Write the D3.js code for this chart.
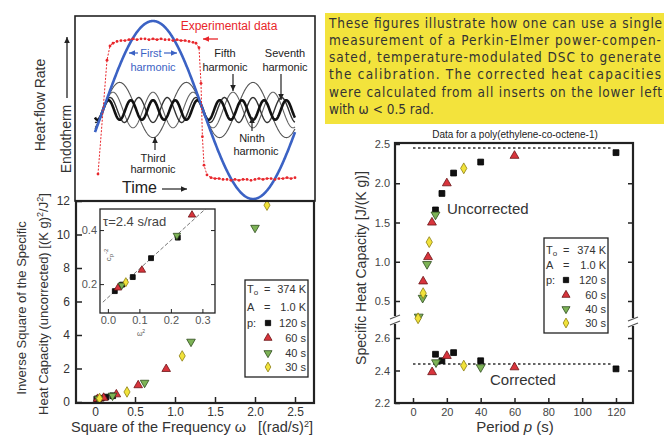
<!DOCTYPE html>
<html>
<head>
<meta charset="utf-8">
<script src="https://cdn.jsdelivr.net/npm/d3@7"></script>
<style>
  body { margin: 0; background: #fff; }
  svg { display: block; font-family: "Liberation Sans", Arial, Helvetica, sans-serif; }
</style>
</head>
<body>
<svg id="chart" width="664" height="435"></svg>
<script>
// ---------- Fourier decomposition of the heat-flow response ----------
const harmonicOrders = [1, 3, 5, 7, 9];
const harmonicAmps   = [1.0, 0.31, 0.20, 0.14, 0.11];
// measured heat-flow rate, [fraction of period, normalized amplitude]
const experimental = [
  [-0.025, -0.72], [0.020, 0.56], [0.035, 0.72], [0.050, 0.75], [0.070, 0.77],
  [0.090, 0.78], [0.110, 0.78], [0.130, 0.79], [0.150, 0.80], [0.170, 0.79],
  [0.190, 0.80], [0.210, 0.80], [0.230, 0.79], [0.250, 0.80], [0.270, 0.79],
  [0.290, 0.80], [0.310, 0.79], [0.330, 0.79], [0.350, 0.78], [0.370, 0.79],
  [0.390, 0.78], [0.410, 0.78], [0.430, 0.77], [0.450, 0.76], [0.465, 0.75],
  [0.480, 0.70], [0.490, 0.30], [0.497, -0.30], [0.505, -0.62], [0.520, -0.73],
  [0.540, -0.76], [0.560, -0.77], [0.580, -0.77], [0.600, -0.78], [0.620, -0.78],
  [0.640, -0.79], [0.660, -0.78], [0.680, -0.79], [0.700, -0.78], [0.720, -0.78],
  [0.740, -0.79], [0.760, -0.78], [0.780, -0.77], [0.800, -0.78], [0.820, -0.77],
  [0.840, -0.77], [0.860, -0.78], [0.880, -0.77], [0.900, -0.77], [0.920, -0.76],
  [0.940, -0.77], [0.960, -0.76]
];

// ---------- calibration: [ω², 1/cp²] for each modulation period ----------
const periodNames = ["120 s", "60 s", "40 s", "30 s"];
const invSq120 = [[0.022, 0.174], [0.045, 0.198], [0.079, 0.226], [0.137, 0.296], [0.222, 0.372]];
const invSq60  = [[0.032, 0.186], [0.108, 0.252], [0.267, 0.456], [0.54, 1.0], [0.89, 1.97]];
const invSq40  = [[0.044, 0.196], [0.219, 0.380], [0.62, 1.15], [1.20, 3.6], [2.00, 10.4]];
const invSq30  = [[0.057, 0.207], [0.40, 0.60], [1.09, 2.75], [2.15, 11.75]];
const fitLine  = [[-0.016, 0.133], [0.314, 0.483]];
const tauLabel = "τ=2.4 s/rad";

// ---------- specific heat capacity vs period, [p (s), cp J/(K g)] ----------
const uncorr120 = [[120, 2.39], [40, 2.27], [24, 2.13], [17.1, 1.87], [13.3, 1.66]];
const uncorr60  = [[60, 2.35], [20, 2.0], [11.2, 1.5], [8.9, 1.06], [6.0, 0.75]];
const uncorr40  = [[13.3, 1.60], [8.3, 0.97], [5.7, 0.54], [3.4, 0.30]];
const uncorr30  = [[30, 2.19], [9.6, 1.25], [6.0, 0.60], [3.0, 0.28]];
const corr120 = [[120, 2.41], [40, 2.46], [24, 2.51], [17.1, 2.46], [13.3, 2.50]];
const corr60  = [[60, 2.42], [20, 2.49], [11.3, 2.39]];
const corr40  = [[40, 2.42], [13.6, 2.45]];
const corr30  = [[30, 2.43]];
const refUncorrected = 2.45;
const refCorrected = 2.44;

const leftYTicks = [0, 2, 4, 6, 8, 10, 12];
const leftXTicks = [0, 0.5, 1.0, 1.5, 2.0, 2.5];
const insetXTicks = [0.0, 0.1, 0.2, 0.3];
const insetYTicks = [0.2, 0.4];
const upperTicks = [0.5, 1.0, 1.5, 2.0, 2.5];
const lowerTicks = [2.2, 2.4, 2.6];
const periodTicks = [0, 20, 40, 60, 80, 100, 120];

const noteLines = [
  "These figures illustrate how one can use a single",
  "measurement of a Perkin-Elmer power-compen-",
  "sated, temperature-modulated DSC to generate",
  "the calibration. The corrected heat capacities",
  "were calculated from all inserts on the lower left",
  "with ω < 0.5 rad."
];

// ---------- styles ----------
const INK = "#222";
const markerStyle = {
  "120 s": { shape: d3.symbolSquare,   rot: 0,   fill: "#111",    stroke: "#000" },
  "60 s":  { shape: d3.symbolTriangle, rot: 0,   fill: "#d8343c", stroke: "#6b1416" },
  "40 s":  { shape: d3.symbolTriangle, rot: 180, fill: "#7db356", stroke: "#2d4a1d" },
  "30 s":  { shape: d3.symbolDiamond,  rot: 0,   fill: "#f1e23a", stroke: "#8c7d12" }
};

const svg = d3.select("#chart");
svg.append("rect").attr("width", 664).attr("height", 435).attr("fill", "#fff");
const defs = svg.append("defs");

function drawMarker(g, key, x, y, size) {
  const s = markerStyle[key];
  g.append("path")
    .attr("d", d3.symbol().type(s.shape).size(size)())
    .attr("transform", `translate(${x},${y}) rotate(${s.rot})`)
    .attr("fill", s.fill).attr("stroke", s.stroke).attr("stroke-width", 0.8);
}

function arrow(g, x1, y1, x2, y2, color, w) {
  g.append("line").attr("x1", x1).attr("y1", y1).attr("x2", x2).attr("y2", y2)
    .attr("stroke", color).attr("stroke-width", w || 1.2);
  const a = Math.atan2(y2 - y1, x2 - x1), L = 6, H = 2.8;
  const p = [
    [x2, y2],
    [x2 - L * Math.cos(a) + H * Math.sin(a), y2 - L * Math.sin(a) - H * Math.cos(a)],
    [x2 - L * Math.cos(a) - H * Math.sin(a), y2 - L * Math.sin(a) + H * Math.cos(a)]
  ];
  g.append("path").attr("d", "M" + p.join("L") + "Z").attr("fill", color);
}

function text(g, x, y, s, opt) {
  opt = opt || {};
  return g.append("text").attr("x", x).attr("y", y).text(s)
    .attr("font-size", opt.size || 11).attr("fill", opt.color || INK)
    .attr("text-anchor", opt.anchor || "start");
}

// =================== top-left: harmonics ===================
const topG = svg.append("g");
const tx = d3.scaleLinear().domain([0, 1]).range([103, 303]);
const ty = d3.scaleLinear().domain([-1, 1]).range([199, 21]);
defs.append("clipPath").attr("id", "clipTop")
  .append("rect").attr("x", 75).attr("y", 16).attr("width", 240).attr("height", 185);

const plotTop = topG.append("g").attr("clip-path", "url(#clipTop)");
const tGrid = d3.range(-0.04, 0.9601, 0.002);
const curve = d3.line().x(d => tx(d[0])).y(d => ty(d[1]));
const harmonicLook = {
  3: { color: "#555", w: 1.1 },
  5: { color: "#666", w: 1.1 },
  7: { color: "#333", w: 1.4 },
  9: { color: "#111", w: 2.6 },
  1: { color: "#3b62c4", w: 2.6 }
};
[3, 5, 7, 9, 1].forEach(n => {
  const amp = harmonicAmps[harmonicOrders.indexOf(n)];
  const pts = tGrid.map(t => [t, amp * Math.sin(2 * Math.PI * n * t)]);
  plotTop.append("path").attr("d", curve(pts)).attr("fill", "none")
    .attr("stroke", harmonicLook[n].color).attr("stroke-width", harmonicLook[n].w);
});
plotTop.append("path").attr("d", curve(experimental)).attr("fill", "none")
  .attr("stroke", "#e8262b").attr("stroke-width", 1).attr("stroke-dasharray", "2,1.5");
plotTop.selectAll("circle.exp").data(experimental).join("circle")
  .attr("cx", d => tx(d[0])).attr("cy", d => ty(d[1])).attr("r", 1.4).attr("fill", "#e8262b");

topG.append("rect").attr("x", 75).attr("y", 16).attr("width", 240).attr("height", 185)
  .attr("fill", "none").attr("stroke", INK).attr("stroke-width", 1.6);

// annotations
text(topG, 229, 30, "Experimental data", { size: 12, color: "#e8262b", anchor: "middle" });
arrow(topG, 218, 39, 203, 39, "#e8262b", 1.3);
text(topG, 151, 57, "First", { size: 11, color: "#3b62c4", anchor: "middle" });
text(topG, 153, 71, "harmonic", { size: 11, color: "#3b62c4", anchor: "middle" });
arrow(topG, 138, 53, 129, 53, "#3b62c4", 1.2);
arrow(topG, 164, 53, 177, 53, "#3b62c4", 1.2);
text(topG, 225, 57, "Fifth", { anchor: "middle" });
text(topG, 225, 71, "harmonic", { anchor: "middle" });
arrow(topG, 233, 74, 233, 91, INK);
text(topG, 285, 57, "Seventh", { anchor: "middle" });
text(topG, 285, 71, "harmonic", { anchor: "middle" });
arrow(topG, 281, 74, 281, 100, INK);
text(topG, 252, 142, "Ninth", { anchor: "middle" });
text(topG, 256, 155, "harmonic", { anchor: "middle" });
arrow(topG, 252, 131, 252, 117, INK);
text(topG, 153, 162, "Third", { anchor: "middle" });
text(topG, 153, 173, "harmonic", { anchor: "middle" });
arrow(topG, 155, 150, 155, 137, INK);
text(topG, 122, 193, "Time", { size: 16 });
arrow(topG, 162, 189, 187, 189, INK, 1.2);

topG.append("text").attr("transform", "translate(45,105) rotate(-90)")
  .attr("text-anchor", "middle").attr("font-size", 14).attr("fill", "#333").text("Heat-flow Rate");
topG.append("text").attr("transform", "translate(71,139) rotate(-90)")
  .attr("text-anchor", "middle").attr("font-size", 14).attr("fill", "#333").text("Endotherm");
arrow(topG, 67, 98, 67, 37, INK, 1.3);

// =================== bottom-left: 1/cp² vs ω² ===================
const blG = svg.append("g");
const mx = d3.scaleLinear().domain([-0.2375, 2.7375]).range([76, 314]);
const my = d3.scaleLinear().domain([-0.06, 12]).range([403, 201]);

const yAx = blG.append("g").attr("transform", "translate(76,0)")
  .call(d3.axisLeft(my).tickValues(leftYTicks).tickSize(-6).tickPadding(6).tickFormat(d3.format("d")));
const xAx = blG.append("g").attr("transform", "translate(0,403)")
  .call(d3.axisBottom(mx).tickValues(leftXTicks).tickSize(-6).tickPadding(4)
    .tickFormat(d => d === 0 ? "0" : d3.format(".1f")(d)));
[yAx, xAx].forEach(a => {
  a.select(".domain").remove();
  a.selectAll("line").attr("stroke", INK).attr("stroke-width", 1.5);
  a.selectAll("text").attr("font-size", 12).attr("fill", "#333").attr("font-family", null);
});

const calib = [["120 s", invSq120], ["60 s", invSq60], ["40 s", invSq40], ["30 s", invSq30]];
calib.forEach(([k, arr]) => arr.forEach(d => drawMarker(blG, k, mx(d[0]), my(d[1]), 32)));

blG.append("rect").attr("x", 76).attr("y", 201).attr("width", 238).attr("height", 202)
  .attr("fill", "none").attr("stroke", INK).attr("stroke-width", 2.2);

// inset
const ix = d3.scaleLinear().domain([-0.025, 0.34]).range([100, 215]);
const iy = d3.scaleLinear().domain([0.093, 0.478]).range([313, 209]);
const inG = blG.append("g");
inG.append("rect").attr("x", 100).attr("y", 209).attr("width", 115).attr("height", 104)
  .attr("fill", "#fff");
defs.append("clipPath").attr("id", "clipInset")
  .append("rect").attr("x", 100).attr("y", 209).attr("width", 115).attr("height", 104);
const inPlot = inG.append("g").attr("clip-path", "url(#clipInset)");
inPlot.append("path").attr("d", d3.line().x(d => ix(d[0])).y(d => iy(d[1]))(fitLine))
  .attr("stroke", "#777").attr("stroke-width", 1).attr("stroke-dasharray", "4,2").attr("fill", "none");
calib.forEach(([k, arr]) => arr.filter(d => d[0] < 0.34 && d[1] < 0.478)
  .forEach(d => drawMarker(inPlot, k, ix(d[0]), iy(d[1]), 24)));

const iyAx = inG.append("g").attr("transform", "translate(100,0)")
  .call(d3.axisLeft(iy).tickValues(insetYTicks).tickSize(-4).tickPadding(3).tickFormat(d3.format(".1f")));
const iyAxR = inG.append("g").attr("transform", "translate(215,0)")
  .call(d3.axisRight(iy).tickValues(insetYTicks).tickSize(-4).tickFormat(""));
const ixAx = inG.append("g").attr("transform", "translate(0,313)")
  .call(d3.axisBottom(ix).tickValues(insetXTicks).tickSize(-4).tickPadding(3).tickFormat(d3.format(".1f")));
[iyAx, iyAxR, ixAx].forEach(a => {
  a.select(".domain").remove();
  a.selectAll("line").attr("stroke", INK).attr("stroke-width", 1);
  a.selectAll("text").attr("font-size", 11).attr("fill", "#555").attr("font-family", null);
});
inG.append("rect").attr("x", 100).attr("y", 209).attr("width", 115).attr("height", 104)
  .attr("fill", "none").attr("stroke", INK).attr("stroke-width", 1.3);
text(inG, 103, 226, tauLabel, { size: 13, color: "#444" });
const cpLab = inG.append("text").attr("transform", "translate(111,255) rotate(-90)")
  .attr("text-anchor", "middle").attr("font-size", 8).attr("fill", "#555");
cpLab.append("tspan").text("c");
cpLab.append("tspan").attr("font-size", 6).attr("dy", 2).text("p");
cpLab.append("tspan").attr("font-size", 6).attr("dy", -5).text("-2");
const omLab = inG.append("text").attr("x", 141).attr("y", 336).attr("text-anchor", "middle")
  .attr("font-size", 7).attr("fill", "#555");
omLab.append("tspan").text("ω");
omLab.append("tspan").attr("font-size", 5).attr("dy", -3).text("2");

// legend block shared by both calibration plots
function drawLegend(g, x, y, w, h, rowY, symX, valX) {
  g.append("rect").attr("x", x).attr("y", y).attr("width", w).attr("height", h)
    .attr("fill", "#fff").attr("stroke", INK).attr("stroke-width", 1.3);
  const t0 = text(g, x + 2, rowY[0], "T", { size: 11, color: "#333" });
  t0.append("tspan").attr("font-size", 8).attr("dy", 2).text("o");
  text(g, x + 19, rowY[0], "=", { size: 11, color: "#333" });
  text(g, valX, rowY[0], "374 K", { size: 11, color: "#333", anchor: "end" });
  text(g, x + 2, rowY[1], "A", { size: 11, color: "#333" });
  text(g, x + 19, rowY[1], "=", { size: 11, color: "#333" });
  text(g, valX, rowY[1], "1.0 K", { size: 11, color: "#333", anchor: "end" });
  text(g, x + 2, rowY[2], "p:", { size: 11, color: "#333" });
  const keys = g.append("g");
  periodNames.forEach((k, i) => {
    text(g, valX, rowY[i + 2], k, { size: 11, color: "#333", anchor: "end" });
    drawMarker(keys, k, symX, rowY[i + 2] - 4, 28);
  });
}
drawLegend(blG, 245, 280, 63, 97, [293, 311, 327, 342, 357, 371], 268, 306);

// axis titles (bottom-left)
blG.append("text").attr("transform", "translate(26,308) rotate(-90)")
  .attr("text-anchor", "middle").attr("font-size", 13).attr("fill", "#333")
  .text("Inverse Square of the Specific");
const yt2 = blG.append("text").attr("transform", "translate(48,304) rotate(-90)")
  .attr("text-anchor", "middle").attr("font-size", 13).attr("fill", "#333");
yt2.append("tspan").text("Heat Capacity (uncorrected) [(K g)");
yt2.append("tspan").attr("font-size", 9).attr("dy", -5).text("2");
yt2.append("tspan").attr("dy", 5).text("/J");
yt2.append("tspan").attr("font-size", 9).attr("dy", -5).text("2");
yt2.append("tspan").attr("dy", 5).text("]");
const xt = blG.append("text").attr("x", 192).attr("y", 432).attr("text-anchor", "middle")
  .attr("font-size", 14.5).attr("fill", "#333");
xt.append("tspan").text("Square of the Frequency ω");
xt.append("tspan").attr("dx", 12).text("[(rad/s)");
xt.append("tspan").attr("font-size", 9).attr("dy", -5).text("2");
xt.append("tspan").attr("dy", 5).text("]");

// =================== top-right: note ===================
const noteG = svg.append("g");
noteG.append("rect").attr("x", 325).attr("y", 13).attr("width", 345).attr("height", 111)
  .attr("fill", "#f3e33c");
const noteEnds = [662, 661, 661, 661, 662, null];
noteLines.forEach((s, i) => {
  const t = noteG.append("text").attr("x", 329).attr("y", 27.5 + i * 17.3).text(s)
    .attr("font-family", "'Liberation Sans Narrow', 'DejaVu Sans Condensed', 'Liberation Sans', sans-serif")
    .attr("font-size", 13.5).attr("fill", "#333");
  if (noteEnds[i]) t.attr("textLength", noteEnds[i] - 329).attr("lengthAdjust", "spacing");
});

// =================== bottom-right: cp vs period ===================
const brG = svg.append("g");
const rx = d3.scaleLinear().domain([0, 120]).range([413, 616]);
const ryU = d3.scaleLinear().domain([0.5, 2.5]).range([301, 144]);
const ryL = d3.scaleLinear().domain([2.2, 2.6]).range([403, 338]);

text(brG, 515, 138, "Data for a poly(ethylene-co-octene-1)", { size: 10, color: "#222", anchor: "middle" });

const axes = [
  brG.append("g").attr("transform", "translate(395,0)")
    .call(d3.axisLeft(ryU).tickValues(upperTicks).tickSize(-5).tickPadding(5).tickFormat(d3.format(".1f"))),
  brG.append("g").attr("transform", "translate(395,0)")
    .call(d3.axisLeft(ryL).tickValues(lowerTicks).tickSize(-5).tickPadding(5).tickFormat(d3.format(".1f"))),
  brG.append("g").attr("transform", "translate(633,0)")
    .call(d3.axisRight(ryU).tickValues(upperTicks.slice(0, 4)).tickSize(-5).tickFormat("")),
  brG.append("g").attr("transform", "translate(633,0)")
    .call(d3.axisRight(ryL).tickValues([2.4, 2.6]).tickSize(-5).tickFormat("")),
  brG.append("g").attr("transform", "translate(0,403)")
    .call(d3.axisBottom(rx).tickValues(periodTicks).tickSize(-5).tickPadding(5).tickFormat(d3.format("d")))
];
axes.forEach(a => {
  a.select(".domain").remove();
  a.selectAll("line").attr("stroke", INK).attr("stroke-width", 1.5);
  a.selectAll("text").attr("font-size", 11).attr("fill", "#444").attr("font-family", null);
});

// reference levels
[[refUncorrected, ryU], [refCorrected, ryL]].forEach(([v, s]) => {
  brG.append("line").attr("x1", rx(0)).attr("x2", rx(118)).attr("y1", s(v)).attr("y2", s(v))
    .attr("stroke", "#333").attr("stroke-width", 1.6).attr("stroke-dasharray", "2.5,2.5");
});

const uncorr = [["120 s", uncorr120], ["60 s", uncorr60], ["40 s", uncorr40], ["30 s", uncorr30]];
const corr = [["120 s", corr120], ["60 s", corr60], ["40 s", corr40], ["30 s", corr30]];
uncorr.forEach(([k, arr]) => arr.forEach(d => drawMarker(brG, k, rx(d[0]), ryU(d[1]), 34)));
corr.forEach(([k, arr]) => arr.forEach(d => drawMarker(brG, k, rx(d[0]), ryL(d[1]), 34)));

brG.append("rect").attr("x", 395).attr("y", 143).attr("width", 238).attr("height", 260)
  .attr("fill", "none").attr("stroke", INK).attr("stroke-width", 2.2);

// axis breaks
[[395, 320], [633, 322]].forEach(([x, y]) => {
  brG.append("rect").attr("x", x - 3).attr("y", y - 4).attr("width", 6).attr("height", 8).attr("fill", "#fff");
  [-3, 3].forEach(o => brG.append("line")
    .attr("x1", x - 5).attr("y1", y + o + 2).attr("x2", x + 5).attr("y2", y + o - 2)
    .attr("stroke", "#555").attr("stroke-width", 1.2));
});

text(brG, 447, 214, "Uncorrected", { size: 15, color: "#333" });
text(brG, 490, 385, "Corrected", { size: 15, color: "#333" });

drawLegend(brG, 544, 238, 64, 95, [254, 269, 284, 299, 313, 327], 566, 606);

brG.append("text").attr("transform", "translate(366,268) rotate(-90)")
  .attr("text-anchor", "middle").attr("font-size", 14).attr("fill", "#333")
  .text("Specific Heat Capacity [J/(K g)]");
const pt = text(brG, 515, 432, "Period ", { size: 15, color: "#333", anchor: "middle" });
pt.append("tspan").attr("font-style", "italic").text("p");
pt.append("tspan").text("   (s)");
</script>
</body>
</html>
